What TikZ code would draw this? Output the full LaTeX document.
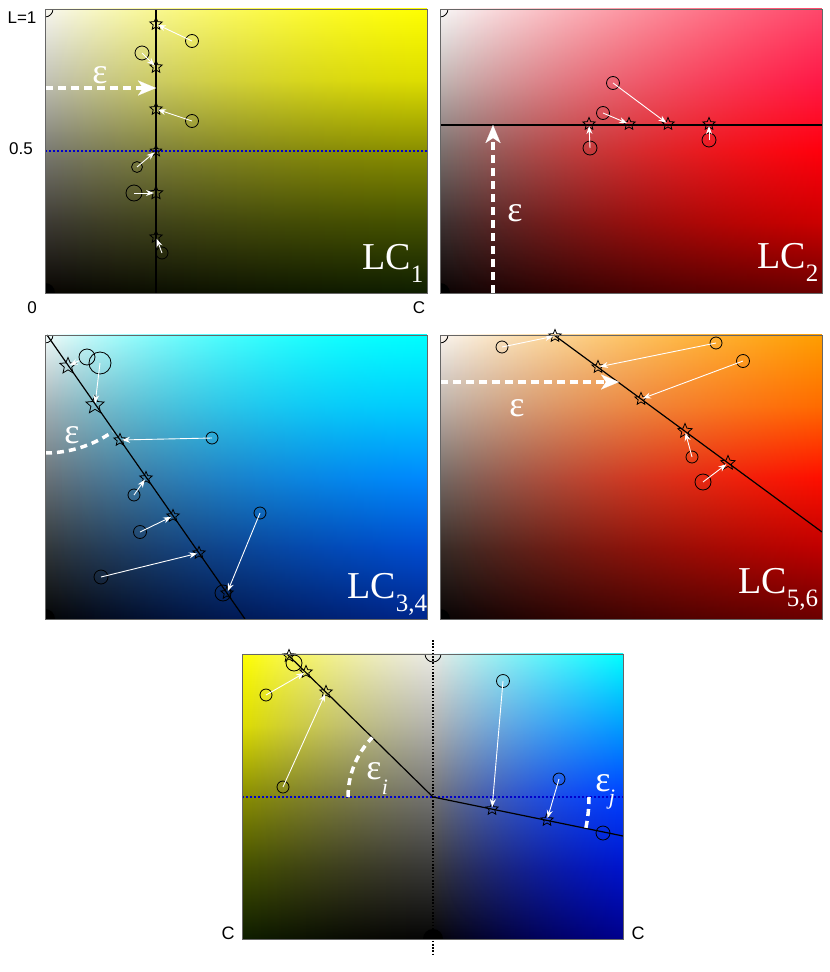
\documentclass[tikz,border=0pt]{standalone}
\usepackage{fontspec}
\setmainfont{Liberation Serif}
\newfontfamily\arialf{Liberation Sans}
\usetikzlibrary{shapes.geometric,arrows.meta,fadings}

\definecolor{dotblue}{rgb}{0,0,0.8}

\tikzfading[name=fadeA, left color=transparent!100, middle color=transparent!0, right color=transparent!0]
\tikzfading[name=fadeB, left color=transparent!100, middle color=transparent!100, right color=transparent!0]

\newcommand{\mkvshade}[6]{\pgfdeclareverticalshading{#1}{100bp}{rgb(0bp)=(#6); rgb(25bp)=(#6); rgb(37.5bp)=(#5); rgb(50bp)=(#4); rgb(62.5bp)=(#3); rgb(75bp)=(#2); rgb(100bp)=(#2)}}

% yellow
\mkvshade{yL}{0.97,0.97,0.95}{0.76,0.76,0.72}{0.48,0.48,0.45}{0.24,0.23,0.21}{0.03,0.02,0.01}
\mkvshade{yM}{0.98,0.95,0.45}{0.82,0.80,0.18}{0.52,0.52,0.04}{0.27,0.28,0.0}{0.06,0.06,0.0}
\mkvshade{yR}{1,1,0}{0.87,0.87,0}{0.54,0.56,0}{0.27,0.32,0}{0.06,0.12,0}
% red
\mkvshade{rL}{0.97,0.97,0.97}{0.76,0.72,0.71}{0.48,0.44,0.43}{0.24,0.20,0.20}{0.04,0.02,0.02}
\mkvshade{rM}{1,0.80,0.72}{0.98,0.55,0.46}{0.85,0.28,0.22}{0.52,0.05,0.03}{0.22,0,0}
\mkvshade{rR}{1,0.28,0.42}{1,0.10,0.28}{1,0.0,0.05}{0.80,0,0}{0.42,0,0}
% cyan
\mkvshade{cL}{0.95,0.98,0.98}{0.65,0.70,0.72}{0.42,0.45,0.47}{0.20,0.22,0.23}{0.02,0.02,0.02}
\mkvshade{cM}{0.1,1,1}{0,0.82,0.96}{0,0.54,0.74}{0,0.28,0.46}{0,0.08,0.20}
\mkvshade{cR}{0,1,1}{0,0.80,1}{0,0.54,1}{0,0.30,0.82}{0,0.15,0.55}
% orange
\mkvshade{oL}{0.98,0.96,0.94}{0.74,0.70,0.67}{0.46,0.42,0.40}{0.22,0.18,0.16}{0.03,0.02,0.02}
\mkvshade{oM}{1,0.86,0.62}{0.98,0.60,0.38}{0.82,0.38,0.16}{0.46,0.13,0.02}{0.18,0.02,0}
\mkvshade{oR}{1,0.62,0}{1,0.42,0}{1,0.06,0}{0.75,0,0}{0.42,0,0}
% bottom panel
\mkvshade{gC}{0.92,0.92,0.90}{0.70,0.70,0.69}{0.45,0.45,0.45}{0.22,0.22,0.22}{0.02,0.02,0.02}
\mkvshade{yMf}{0.96,0.94,0.55}{0.80,0.78,0.30}{0.50,0.48,0.12}{0.25,0.23,0.03}{0.05,0.04,0}
\mkvshade{bM}{0.85,0.90,1}{0.55,0.65,1}{0.22,0.35,0.88}{0.08,0.14,0.50}{0.01,0.02,0.18}
\mkvshade{bR}{0,1,1}{0,0.62,1}{0,0.25,1}{0,0.08,0.80}{0,0,0.55}

\newcommand{\panelbg}[7]{%
  \shade[shading=#5] (#1,#2) rectangle (#3,#4);
  \shade[shading=#6, path fading=fadeA] (#1,#2) rectangle (#3,#4);
  \shade[shading=#7, path fading=fadeB] (#1,#2) rectangle (#3,#4);}

\newcommand{\cornermarks}[4]{%
  \begin{scope}
    \clip (#1,#2) rectangle (#3,#4);
    \draw[black, line width=0.8pt] (#1,#2) circle[radius=8];
    \fill[black] (#1,#4) circle[radius=10];
  \end{scope}}

\tikzset{
  starm/.style={star, star points=5, star point ratio=2.2, draw=black, line width=0.8pt, inner sep=0pt, minimum size=#1},
  starm/.default=13,
  circm/.style={circle, draw=black, line width=0.8pt, inner sep=0pt, minimum size=#1},
  circm/.default=13,
  warr/.style={draw=white, line width=0.9pt, -{Stealth[length=8pt,width=6pt]}, shorten >=2pt},
  lcline/.style={draw=black, line width=1.2pt},
  bluedot/.style={draw=dotblue, line width=1.6pt, dash pattern=on 2pt off 2pt},
  blackdot/.style={draw=black, line width=1.6pt, dash pattern=on 1.6pt off 1.6pt},
  earrow/.style={draw=white, line width=3.5pt, dash pattern=on 8pt off 5pt, -{Stealth[length=18pt,width=15pt,inset=5pt,line width=0.1pt]}},
  earc/.style={draw=white, line width=3.5pt, dash pattern=on 7pt off 5pt},
  panelframe/.style={draw=black!60, line width=1pt},
  lcl/.style={text=white, anchor=base west, inner sep=0pt},
  epsl/.style={text=white, inner sep=0pt, font=\fontsize{36}{36}\selectfont},
  subl/.style={text=white, inner sep=0pt, font=\fontsize{22}{22}\selectfont\itshape},
  axl/.style={text=black, inner sep=0pt, font=\arialf\fontsize{17}{17}\selectfont},
  axlb/.style={text=black, inner sep=0pt, font=\arialf\fontsize{18}{18}\selectfont},
}

\newcommand{\lcsub}[2]{{\fontsize{38}{38}\selectfont #1}\raisebox{-13pt}{\fontsize{25}{25}\selectfont #2}}

\begin{document}
\begin{tikzpicture}[x=1pt,y=-1pt]
\useasboundingbox (0,0) rectangle (830,972);
\fill[white] (0,0) rectangle (830,972);

% ================= Panel 1 (LC1) =================
\panelbg{45}{9}{427}{293}{yL}{yM}{yR}
\cornermarks{45}{9}{427}{293}
\draw[bluedot] (45,151) -- (427,151);
\coordinate (p1t) at (156,9);
\coordinate (p1b) at (156,293);
\draw[lcline] (p1t) -- (p1b);
\node[starm] (p1s1) at (156,24) {};
\node[starm] (p1s2) at (156,67) {};
\node[starm] (p1s3) at (156,109) {};
\node[starm=12] (p1s4) at (156,151) {};
\node[starm=14] (p1s5) at (156,193) {};
\node[starm] (p1s6) at (156,237) {};
\node[circm=13] (p1c1) at (192,41) {};
\node[circm=14] (p1c2) at (142,53) {};
\node[circm=13] (p1c3) at (192,121) {};
\node[circm=11] (p1c4) at (137,167) {};
\node[circm=16] (p1c5) at (134,193) {};
\node[circm=12] (p1c6) at (162,253) {};
\foreach \i in {1,...,6} \draw[warr] (p1c\i.center) -- (p1s\i.center);
\coordinate (p1ea) at (45,88);
\coordinate (p1eb) at (156,88);
\draw[earrow] (p1ea) -- (p1eb);
\node[epsl] (p1eps) at (100,75) {ε};
\node[lcl] (p1lab) at (362,269) {\lcsub{LC}{1}};
\draw[panelframe] (45,9) rectangle (427,293);
\node[axl] (lL1) at (22,18) {L=1};
\node[axl] (lL05) at (21,149) {0.5};
\node[axl] (lL0) at (32,308) {0};
\node[axl] (lC1) at (419,308) {C};

% ================= Panel 2 (LC2) =================
\panelbg{440}{9}{822}{293}{rL}{rM}{rR}
\cornermarks{440}{9}{822}{293}
\coordinate (p2l) at (440,125);
\coordinate (p2r) at (822,125);
\draw[lcline] (p2l) -- (p2r);
\node[starm] (p2s1) at (589,124) {};
\node[starm] (p2s2) at (629,124) {};
\node[starm] (p2s3) at (668,124) {};
\node[starm] (p2s4) at (709,124) {};
\node[circm=14] (p2c1) at (590,148) {};
\node[circm=13] (p2c2) at (603,113) {};
\node[circm=13] (p2c3) at (613,83) {};
\node[circm=14] (p2c4) at (709,140) {};
\foreach \i in {1,...,4} \draw[warr] (p2c\i.center) -- (p2s\i.center);
\coordinate (p2ea) at (493,293);
\coordinate (p2eb) at (493,125);
\draw[earrow] (p2ea) -- (p2eb);
\node[epsl] (p2eps) at (515,213) {ε};
\node[lcl] (p2lab) at (757,268) {\lcsub{LC}{2}};
\draw[panelframe] (440,9) rectangle (822,293);

% ================= Panel 3 (LC3,4) =================
\panelbg{45}{335}{427}{619}{cL}{cM}{cR}
\cornermarks{45}{335}{427}{619}
\coordinate (p3t) at (47,335);
\coordinate (p3b) at (245,619);
\draw[lcline] (p3t) -- (p3b);
\node[starm=17] (p3s1) at (68,366) {};
\node[starm=19] (p3s2) at (95,405) {};
\node[starm] (p3s3) at (120,440) {};
\node[starm] (p3s4) at (146,478) {};
\node[starm] (p3s5) at (173,516) {};
\node[starm] (p3s6) at (199,553) {};
\node[starm] (p3s7) at (227,593) {};
\node[circm=16] (p3c1) at (87,357) {};
\node[circm=22] (p3c2) at (100,363) {};
\node[circm=12] (p3c3) at (212,438) {};
\node[circm=12] (p3c4) at (134,495) {};
\node[circm=13] (p3c5) at (140,532) {};
\node[circm=14] (p3c6) at (101,577) {};
\node[circm=12] (p3c7) at (260,513) {};
\node[circm=16] (p3c8) at (223,593) {};
\draw[warr] (p3c1) -- (p3s1.center);
\foreach \i in {2,...,7} \draw[warr] (p3c\i.center) -- (p3s\i.center);
\coordinate (p3o) at (45,335);
\draw[earc] (p3o) ++(90:118) arc[start angle=90, end angle=55, radius=118];
\node[epsl] (p3eps) at (72,435) {ε};
\node[lcl] (p3lab) at (347,598) {\lcsub{LC}{3,4}};
\draw[panelframe] (45,335) rectangle (427,619);

% ================= Panel 4 (LC5,6) =================
\panelbg{440}{335}{822}{619}{oL}{oM}{oR}
\cornermarks{440}{335}{822}{619}
\coordinate (p4t) at (554,335);
\coordinate (p4b) at (822,532);
\draw[lcline] (p4t) -- (p4b);
\node[starm] (p4s1) at (555,336) {};
\node[starm] (p4s2) at (598,367) {};
\node[starm] (p4s3) at (641,399) {};
\node[starm=15] (p4s4) at (685,431) {};
\node[starm=15] (p4s5) at (728,463) {};
\node[circm=12] (p4c1) at (502,347) {};
\node[circm=12] (p4c2) at (716,343) {};
\node[circm=13] (p4c3) at (743,361) {};
\node[circm=12] (p4c4) at (692,457) {};
\node[circm=16] (p4c5) at (703,482) {};
\foreach \i in {1,...,5} \draw[warr] (p4c\i.center) -- (p4s\i.center);
\coordinate (p4ea) at (440,382);
\coordinate (p4eb) at (619,382);
\draw[earrow] (p4ea) -- (p4eb);
\node[epsl] (p4eps) at (517,408) {ε};
\node[lcl] (p4lab) at (738,593) {\lcsub{LC}{5,6}};
\draw[panelframe] (440,335) rectangle (822,619);

% ================= Panel 5 (bottom) =================
\panelbg{242}{654}{433}{939}{yR}{yMf}{gC}
\panelbg{433}{654}{623}{939}{gC}{bM}{bR}
\begin{scope}
  \clip (242,654) rectangle (623,939);
  \draw[black, line width=0.8pt] (433,654) circle[radius=8];
  \fill[black] (433,939) circle[radius=10];
\end{scope}
\coordinate (p5o) at (433,797);
\coordinate (p5vt) at (433,640);
\coordinate (p5vb) at (433,955);
\coordinate (p5hl) at (242,797);
\coordinate (p5hr) at (623,797);
\coordinate (p5lt) at (287,654);
\coordinate (p5re) at (623,836);
\draw[bluedot] (p5hl) -- (p5hr);
\draw[lcline] (p5o) -- (p5lt);
\draw[lcline] (p5o) -- (p5re);
\node[starm] (p5s1) at (289,656) {};
\node[starm] (p5s2) at (306,672) {};
\node[starm] (p5s3) at (326,692) {};
\node[starm] (p5s4) at (492,809) {};
\node[starm] (p5s5) at (547,820) {};
\node[circm=16] (p5c1) at (294,663) {};
\node[circm=12] (p5c2) at (266,695) {};
\node[circm=12] (p5c3) at (283,787) {};
\node[circm=13] (p5c4) at (503,681) {};
\node[circm=12] (p5c5) at (559,779) {};
\node[circm=14] (p5c6) at (603,833) {};
\foreach \i in {2,...,5} \draw[warr] (p5c\i.center) -- (p5s\i.center);
\draw[earc] (p5o) ++(180:85) arc[start angle=180, end angle=224.4, radius=85];
\draw[earc] (p5o) ++(0:156) arc[start angle=0, end angle=11.6, radius=156];
\node[epsl] (p5epsi) at (374,771) {ε};
\node[subl] (p5subi) at (385,787) {i};
\node[epsl] (p5epsj) at (603,783) {ε};
\node[subl] (p5subj) at (612,800) {j};
\draw[panelframe] (242,654) rectangle (623,939);
\draw[blackdot] (p5vt) -- (p5vb);
\node[axlb] (lCl) at (228,933) {C};
\node[axlb] (lCr) at (638,933) {C};
\end{tikzpicture}
\end{document}
